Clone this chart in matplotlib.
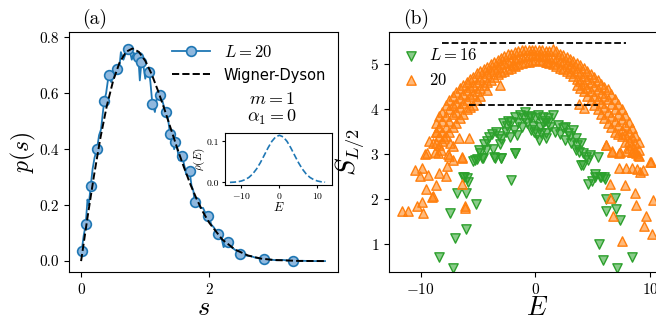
import numpy as np
import matplotlib
matplotlib.use("Agg")
import matplotlib.pyplot as plt
from matplotlib.lines import Line2D

plt.rcParams['font.family'] = 'serif'
plt.rcParams['font.serif'] = ['cmr10']
plt.rcParams['mathtext.fontset'] = 'cm'
plt.rcParams['axes.formatter.use_mathtext'] = True

#=========================================
# data, panel (a): level spacing distribution
#=========================================
s_line = [0.01, 0.04, 0.072, 0.10, 0.12, 0.15, 0.18, 0.21, 0.248, 0.28,
          0.31, 0.36, 0.39, 0.43, 0.47, 0.52, 0.558, 0.60, 0.62, 0.66,
          0.70, 0.724, 0.76, 0.79, 0.82, 0.85, 0.879, 0.90, 0.915, 0.94,
          0.97, 1.00, 1.03, 1.06, 1.08, 1.11, 1.15, 1.19, 1.23, 1.27,
          1.30, 1.33, 1.36, 1.385, 1.42, 1.45, 1.47, 1.50, 1.53, 1.576,
          1.60, 1.64, 1.69, 1.72, 1.75, 1.77, 1.82, 1.86, 1.90, 1.94,
          1.985, 2.03, 2.07, 2.13, 2.18, 2.22, 2.29, 2.34, 2.40, 2.48,
          2.56, 2.64, 2.72, 2.85, 2.95, 3.05, 3.15, 3.30, 3.45, 3.60, 3.80]
p_line = [0.037, 0.09, 0.131, 0.22, 0.20, 0.269, 0.33, 0.37, 0.40, 0.45,
          0.47, 0.572, 0.60, 0.666, 0.64, 0.675, 0.685, 0.70, 0.747, 0.72,
          0.745, 0.757, 0.75, 0.72, 0.745, 0.73, 0.73, 0.70, 0.646, 0.712,
          0.70, 0.652, 0.69, 0.676, 0.64, 0.563, 0.533, 0.60, 0.593, 0.57,
          0.545, 0.533, 0.50, 0.456, 0.45, 0.40, 0.426, 0.40, 0.36, 0.377,
          0.35, 0.31, 0.323, 0.27, 0.25, 0.21, 0.21, 0.19, 0.19, 0.17,
          0.161, 0.13, 0.12, 0.097, 0.09, 0.05, 0.067, 0.05, 0.04, 0.027,
          0.02, 0.018, 0.012, 0.007, 0.005, 0.003, 0.004, 0.0, 0.001, 0.0, 0.0]

s_mk = [0.01, 0.072, 0.15, 0.248, 0.36, 0.43, 0.558, 0.724, 0.879, 0.94,
        1.06, 1.11, 1.23, 1.33, 1.385, 1.47, 1.576, 1.69, 1.77, 1.985,
        2.13, 2.29, 2.48, 2.85, 3.30]
p_mk = [0.037, 0.131, 0.269, 0.40, 0.572, 0.666, 0.685, 0.757, 0.73, 0.712,
        0.676, 0.563, 0.593, 0.533, 0.456, 0.426, 0.377, 0.323, 0.21, 0.161,
        0.097, 0.067, 0.027, 0.007, 0.0]

s_wd = [0.0, 0.1, 0.2, 0.3, 0.4, 0.5, 0.6, 0.7, 0.8, 0.9, 1.0, 1.1, 1.2,
        1.3, 1.4, 1.5, 1.6, 1.7, 1.8, 1.9, 2.0, 2.2, 2.4, 2.6, 2.8, 3.0,
        3.4, 3.8]
p_wd = [0.0, 0.156, 0.304, 0.439, 0.554, 0.645, 0.710, 0.748, 0.760, 0.748,
        0.716, 0.668, 0.608, 0.542, 0.472, 0.402, 0.337, 0.276, 0.222, 0.175,
        0.136, 0.077, 0.041, 0.020, 0.009, 0.004, 0.0006, 0.0]

# inset: density of states
e_dos = [-13, -12, -11, -10, -9, -8, -7, -6, -5, -4, -3, -2, -1, 0,
         1, 2, 3, 4, 5, 6, 7, 8, 9, 10, 11, 12]
rho_dos = [0.0003, 0.0008, 0.0017, 0.0036, 0.0070, 0.0125, 0.0211, 0.0331,
           0.0484, 0.0661, 0.0842, 0.1001, 0.111, 0.115, 0.111, 0.1001,
           0.0842, 0.0661, 0.0484, 0.0331, 0.0211, 0.0125, 0.0070, 0.0036,
           0.0017, 0.0008]

#=========================================
# data, panel (b): half-chain entanglement entropy
#=========================================
# dense band of L=20 states, one column of S values per energy
band20 = [
    (-8.7, [3.7, 3.5, 3.25]),
    (-8.4, [3.85, 3.6, 3.4, 3.2]),
    (-8.1, [3.95, 3.75, 3.5, 3.3]),
    (-7.8, [4.1, 3.85, 3.6, 3.4]),
    (-7.5, [4.2, 4.0, 3.75, 3.5]),
    (-7.2, [4.3, 4.1, 3.9, 3.6]),
    (-6.9, [4.38, 4.15, 3.95, 3.7]),
    (-6.6, [4.48, 4.25, 4.05, 3.8]),
    (-6.3, [4.55, 4.35, 4.15, 3.9]),
    (-6.0, [4.6, 4.42, 4.2, 4.0]),
    (-5.7, [4.67, 4.5, 4.3, 4.05]),
    (-5.4, [4.73, 4.55, 4.35, 4.1]),
    (-5.1, [4.8, 4.6, 4.4, 4.2]),
    (-4.8, [4.85, 4.68, 4.48, 4.3]),
    (-4.5, [4.9, 4.73, 4.55]),
    (-4.2, [4.95, 4.8, 4.6, 4.42]),
    (-3.9, [5.0, 4.85, 4.65]),
    (-3.6, [5.05, 4.9, 4.72]),
    (-3.3, [5.1, 4.95, 4.78]),
    (-3.0, [5.14, 5.0, 4.82]),
    (-2.7, [5.18, 5.02, 4.86]),
    (-2.4, [5.22, 5.06, 4.9]),
    (-2.1, [5.24, 5.1, 4.92]),
    (-1.8, [5.27, 5.12, 4.96]),
    (-1.5, [5.29, 5.15, 5.0]),
    (-1.2, [5.31, 5.17, 5.02]),
    (-0.9, [5.32, 5.18, 5.05]),
    (-0.6, [5.33, 5.2, 5.06]),
    (-0.3, [5.33, 5.2, 5.08]),
    (0.0, [5.33, 5.2, 5.1]),
    (0.3, [5.32, 5.2, 5.1]),
    (0.6, [5.31, 5.19, 5.08]),
    (0.9, [5.3, 5.18, 5.06]),
    (1.2, [5.3, 5.16, 5.04]),
    (1.5, [5.35, 5.15, 5.0]),
    (1.8, [5.3, 5.12, 4.97]),
    (2.1, [5.24, 5.08, 4.93]),
    (2.4, [5.2, 5.05, 4.9]),
    (2.7, [5.17, 5.0, 4.85]),
    (3.0, [5.12, 4.96, 4.8]),
    (3.3, [5.07, 4.92, 4.74]),
    (3.6, [5.02, 4.86, 4.68, 4.55]),
    (3.9, [4.98, 4.8, 4.62, 4.48]),
    (4.2, [4.92, 4.74, 4.56, 4.4]),
    (4.5, [4.85, 4.67, 4.48, 4.3]),
    (4.8, [4.78, 4.6, 4.4, 4.2]),
    (5.1, [4.72, 4.52, 4.3, 4.1]),
    (5.4, [4.65, 4.45, 4.22, 4.0]),
    (5.7, [4.57, 4.37, 4.15, 3.9]),
    (6.0, [4.5, 4.3, 4.05, 3.8]),
    (6.3, [4.45, 4.22, 3.95, 3.7]),
    (6.6, [4.35, 4.12, 3.85, 3.6]),
    (6.9, [4.22, 4.0, 3.75, 3.5]),
    (7.2, [4.12, 3.9, 3.65, 3.45]),
    (7.5, [4.0, 3.78, 3.55, 3.4]),
    (7.8, [3.88, 3.65, 3.45, 3.28]),
    (8.1, [3.72, 3.5, 3.3, 3.15]),
    (8.4, [3.58, 3.38, 3.2, 3.05]),
    (8.7, [3.42, 3.25, 3.08]),
    (9.0, [3.28, 3.1, 2.97]),
]

# scattered L=20 states outside the band
e20_out = [-11.65, -11.13, -10.35, -9.77, -9.91, -9.05, -10.5, -9.86, -10.06,
           -9.34, -8.41, -7.8, -9.57, -8.62, -8.96, -6.44, -6.15, -7.66, -7.22,
           -6.38, -8.76, -9.48, -7.6, -9.6, -8.95, -8.46, -7.54, -6.7, -6.38,
           -5.77, -7.16, -8.0, -9.3, -8.7, -8.2, -7.4, -6.1,
           -3.1, -1.95, 1.0, 3.79, 4.23,
           6.63, 7.27, 7.85, 8.72, 8.92, 10.03, 7.27, 7.85, 8.8, 9.1, 6.47,
           7.77, 8.64, 6.47, 8.78, 10.23, 6.76, 9.6, 9.43, 10.1, 7.56,
           6.17, 6.69, 7.33, 8.43, 8.43, 9.36, 10.0, 6.1]
s20_out = [1.74, 1.73, 1.85, 1.69, 1.95, 2.06, 2.65, 2.69, 2.52,
           2.54, 2.58, 2.52, 2.24, 2.32, 2.07, 2.35, 1.8, 2.75, 2.88,
           2.94, 3.06, 3.02, 3.01, 3.0, 3.26, 3.02, 2.97, 3.37, 2.91,
           3.37, 3.19, 3.37, 3.3, 3.5, 3.1, 3.25, 1.85,
           4.54, 4.98, 5.05, 4.13, 4.04,
           3.06, 3.04, 3.08, 3.03, 2.99, 2.82, 2.69, 2.69, 2.67, 2.6, 2.35,
           2.31, 2.14, 2.03, 1.87, 1.98, 1.62, 1.62, 1.4, 1.23, 1.08,
           3.21, 3.07, 3.06, 3.06, 2.69, 2.65, 2.82, 3.2]

# L=16 states
e16 = [-5.43, -5.05, -4.67, -4.96, -4.49, -4.34, -4.07, -3.7, -3.54, -3.0,
       -3.1, -2.96, -2.81, -2.52, -2.23, -1.8, -1.65, -2.09, -1.8, -1.37,
       -0.93, -0.73, -0.36, -0.2, 0.23, 0.32, 0.61, 0.9, 1.1, -2.09,
       -6.29, -6.0, 0.66, 1.1, 1.53, 1.97, 2.4, 2.84, 3.27, 3.56,
       2.55, 3.13, 3.5, 4.0, 4.14, 4.72, 5.44, 4.14, 4.58, 5.16,
       5.73, 6.0, 0.52, 0.95, -4.84, -5.27, -4.55, -3.59, -3.01, -1.8,
       -6.2, -5.91, -6.87, -6.09, -7.44, -5.19, -6.99, -8.4, -7.22, -6.08,
       3.94, 5.16, 5.6, 6.03, 4.6, 4.9, 6.12, 6.96, 6.17, 7.04,
       7.33, 5.5, 5.87, 8.43, 7.13,
       -4.2, -3.8, -3.4, -3.2, -2.6, -2.4, -1.9, -1.5, -1.2, -1.0,
       -0.6, -0.4, 0.0, 0.4, 0.8, 1.3, 1.7, 2.1, 2.6, 3.0,
       3.6, 3.8, 4.4, -0.1, 0.1]
s16 = [2.86, 2.89, 2.91, 3.09, 3.24, 3.09, 3.39, 3.13, 2.91, 2.91,
       3.23, 3.35, 3.69, 3.62, 3.39, 3.02, 3.43, 3.73, 3.84, 3.87,
       3.95, 3.69, 3.84, 3.62, 3.87, 3.33, 3.69, 3.47, 3.8, 2.43,
       2.5, 2.47, 3.84, 3.69, 3.87, 3.65, 3.58, 3.47, 3.54, 3.36,
       3.32, 3.25, 3.1, 3.25, 3.02, 2.98, 2.95, 2.76, 2.87, 2.5,
       2.49, 2.49, 3.47, 3.36, 3.04, 2.87, 2.91, 2.94, 2.91, 3.02,
       2.5, 2.39, 2.13, 2.15, 1.69, 1.89, 1.13, 0.72, 0.48, 1.33,
       2.76, 2.56, 2.5, 2.46, 2.34, 2.4, 2.0, 2.03, 1.75, 1.78,
       1.55, 1.01, 0.66, 0.71, 0.47,
       3.3, 3.45, 3.5, 3.4, 3.5, 3.75, 3.55, 3.7, 3.6, 3.8,
       3.85, 3.55, 3.8, 3.6, 3.75, 3.6, 3.5, 3.45, 3.6, 3.4,
       3.2, 3.05, 2.95, 3.5, 3.45]

# reference values (dashed lines) and their energy windows
s_ref = [5.47, 4.10]
e_ref_lo = [-8.1, -5.8]
e_ref_hi = [7.9, 5.4]

e20 = [e for e, col in band20 for _ in col] + e20_out
s20 = [v for e, col in band20 for v in col] + s20_out

#=========================================
# figure
#=========================================
blue = '#1f77b4'
orange = '#ff7f0e'
green = '#2ca02c'

fig = plt.figure(figsize=(6.56, 3.2), dpi=100)

ax1 = fig.add_axes([0.105, 0.15, 0.41, 0.75])
ax1.plot(s_line, p_line, color=blue, lw=1.3, zorder=2)
ax1.plot(s_mk, p_mk, 'o', ms=7, mfc='#8fb8de', mec=blue, mew=1.2, zorder=3)
ax1.plot(s_wd, p_wd, 'k--', lw=1.4, zorder=4)
ax1.set_xlim(-0.19, 4.0)
ax1.set_ylim(-0.039, 0.819)
ax1.set_xticks([0, 2])
ax1.set_yticks([0.0, 0.2, 0.4, 0.6, 0.8])
ax1.set_yticklabels(['0.0', '0.2', '0.4', '0.6', '0.8'])
ax1.tick_params(labelsize=11)
ax1.set_xlabel('$s$', fontsize=19, labelpad=0)
ax1.set_ylabel('$p(s)$', fontsize=17, labelpad=1)

handles = [Line2D([], [], color=blue, lw=1.3, marker='o', ms=7,
                  mfc='#8fb8de', mec=blue, mew=1.2),
           Line2D([], [], color='k', ls='--', lw=1.4)]
leg = ax1.legend(handles, ['$L=20$', 'Wigner-Dyson'], loc='upper right',
                 frameon=False, fontsize=12, handlelength=2.3,
                 borderaxespad=0.3)
leg.get_texts()[1].set_family('DejaVu Sans')
leg.get_texts()[1].set_fontsize(10.5)
ax1.text(0.755, 0.72, '$m=1$', transform=ax1.transAxes, ha='center',
         va='center', fontsize=13)
ax1.text(0.755, 0.645, r'$\alpha_1=0$', transform=ax1.transAxes, ha='center',
         va='center', fontsize=13)

# inset
axin = fig.add_axes([0.343, 0.422, 0.163, 0.163])
axin.plot(e_dos, rho_dos, '--', color=blue, lw=1.2)
axin.set_xlim(-14.3, 13.8)
axin.set_ylim(-0.006, 0.121)
axin.set_xticks([-10, 0, 10])
axin.set_yticks([0.0, 0.1])
axin.set_yticklabels(['0.0', '0.1'])
axin.tick_params(labelsize=7, length=2.5, pad=1.5)
axin.set_xlabel('$E$', fontsize=9, labelpad=0)
axin.set_ylabel(r'$\rho(E)$', fontsize=8, labelpad=0)

ax2 = fig.add_axes([0.593, 0.15, 0.451, 0.75])
ax2.scatter(e16, s16, marker='v', s=45, facecolors=(0.17, 0.63, 0.17, 0.55),
            edgecolors=green, linewidths=1.0, label='$L=16$', zorder=2)
ax2.scatter(e20, s20, marker='^', s=45, facecolors=(1.0, 0.5, 0.05, 0.55),
            edgecolors=orange, linewidths=1.0, label='$20$', zorder=3)
ax2.hlines(s_ref, e_ref_lo, e_ref_hi, colors='k', linestyles='--', lw=1.3,
           zorder=4)
ax2.set_xlim(-12.75, 13.0)
ax2.set_ylim(0.385, 5.72)
ax2.set_xticks([-10, 0, 10])
ax2.set_yticks([1, 2, 3, 4, 5])
ax2.tick_params(labelsize=11)
ax2.set_xlabel('$E$', fontsize=19, labelpad=0)
ax2.set_ylabel('$S_{L/2}$', fontsize=19, labelpad=2)
ax2.legend(loc='upper left', frameon=False, fontsize=12, handletextpad=0.5,
           handlelength=1.2, borderaxespad=0.3, bbox_to_anchor=(0.0, 0.985))

fig.text(0.125, 0.94, '(a)', fontsize=14, ha='left', va='center')
fig.text(0.614, 0.94, '(b)', fontsize=14, ha='left', va='center')

fig.savefig('out.png', dpi=100)
